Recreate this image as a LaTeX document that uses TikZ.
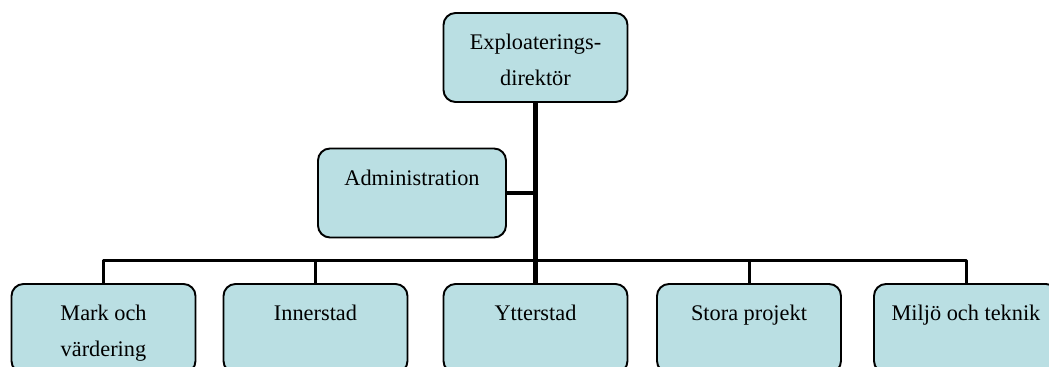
\documentclass[tikz,border=0pt]{standalone}
\usepackage{fontspec}
\setmainfont{Liberation Serif}
\definecolor{boxblue}{RGB}{186,223,227}
\newcommand{\unittext}[1]{\parbox[c][1.78cm][t]{3.6cm}{\centering\baselineskip=20.4pt\rule{0pt}{0.74cm}#1}}
\tikzset{
  unit/.style={draw, fill=boxblue, rounded corners=0.24cm, line width=1.1pt,
    inner sep=0pt, minimum width=3.68cm, minimum height=1.78cm},
  trunk/.style={line width=2.8pt},
  branch/.style={line width=1.7pt}
}
\begin{document}
\begin{tikzpicture}[font=\fontsize{12.7pt}{20.4pt}\selectfont, line join=round]
\useasboundingbox (0,0) rectangle (20.98,7.34);
\clip (0,0) rectangle (20.98,7.34);
% boxes
\node[unit] (dir) at (10.71,6.19) {\unittext{Exploaterings-\\direktör}};
\node[unit, minimum width=3.76cm] (admin) at (8.24,3.48) {\unittext{Administration}};
\node[unit] (mark) at (2.07,0.77) {\unittext{Mark och\\värdering}};
\node[unit] (inner) at (6.31,0.77) {\unittext{Innerstad}};
\node[unit] (ytter) at (10.71,0.77) {\unittext{Ytterstad}};
\node[unit] (stora) at (14.98,0.77) {\unittext{Stora projekt}};
\node[unit] (miljo) at (19.32,0.77) {\unittext{Miljö och teknik}};
\coordinate (hub) at (10.71,2.12);
% lines
\draw[branch] (mark.north) -- (mark.north |- hub) -- (miljo.north |- hub) -- (miljo.north);
\foreach \n in {inner,stora}
  \draw[branch] (\n.north) -- (\n.north |- hub);
\draw[trunk] (dir.south) -- (hub) -- (ytter.north);
\draw[trunk] (admin.east) -- (admin.east -| dir.south);
\end{tikzpicture}
\end{document}
